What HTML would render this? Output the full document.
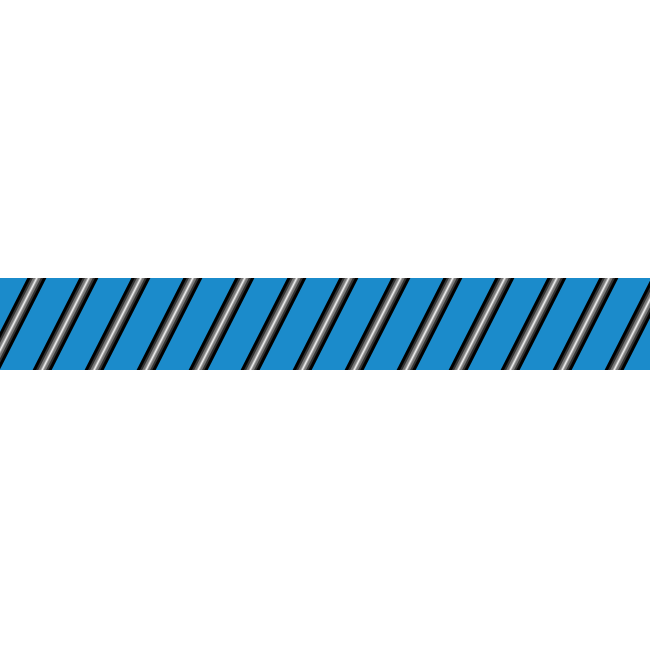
<!DOCTYPE html>
<html><head><style>html,body{margin:0;padding:0;background:#fff;}svg{display:block}</style></head>
<body>
<svg width="650" height="650" viewBox="0 0 650 650" xmlns="http://www.w3.org/2000/svg" xmlns:xlink="http://www.w3.org/1999/xlink">
<defs>
<clipPath id="c"><rect x="0" y="278" width="650" height="92"/></clipPath>
<g id="st">
<line x1="10" y1="258" x2="-57" y2="390" stroke="#000" stroke-width="17"/>
<line x1="10" y1="258" x2="-57" y2="390" stroke="#333" stroke-width="11"/>
<line x1="10" y1="258" x2="-57" y2="390" stroke="#777" stroke-width="7"/>
<line x1="10" y1="258" x2="-57" y2="390" stroke="#aaa" stroke-width="3"/>
<line x1="10" y1="258" x2="-57" y2="390" stroke="#eee" stroke-width="1.2"/>
</g>
</defs>
<rect x="0" y="278" width="650" height="92" fill="#1b8bcb"/>
<g clip-path="url(#c)">
<use xlink:href="#st" href="#st" x="-15"/>
<use xlink:href="#st" href="#st" x="37"/>
<use xlink:href="#st" href="#st" x="89"/>
<use xlink:href="#st" href="#st" x="141"/>
<use xlink:href="#st" href="#st" x="193"/>
<use xlink:href="#st" href="#st" x="245"/>
<use xlink:href="#st" href="#st" x="297"/>
<use xlink:href="#st" href="#st" x="349"/>
<use xlink:href="#st" href="#st" x="401"/>
<use xlink:href="#st" href="#st" x="453"/>
<use xlink:href="#st" href="#st" x="505"/>
<use xlink:href="#st" href="#st" x="557"/>
<use xlink:href="#st" href="#st" x="609"/>
<use xlink:href="#st" href="#st" x="661"/>
</g>
</svg>
</body></html>
